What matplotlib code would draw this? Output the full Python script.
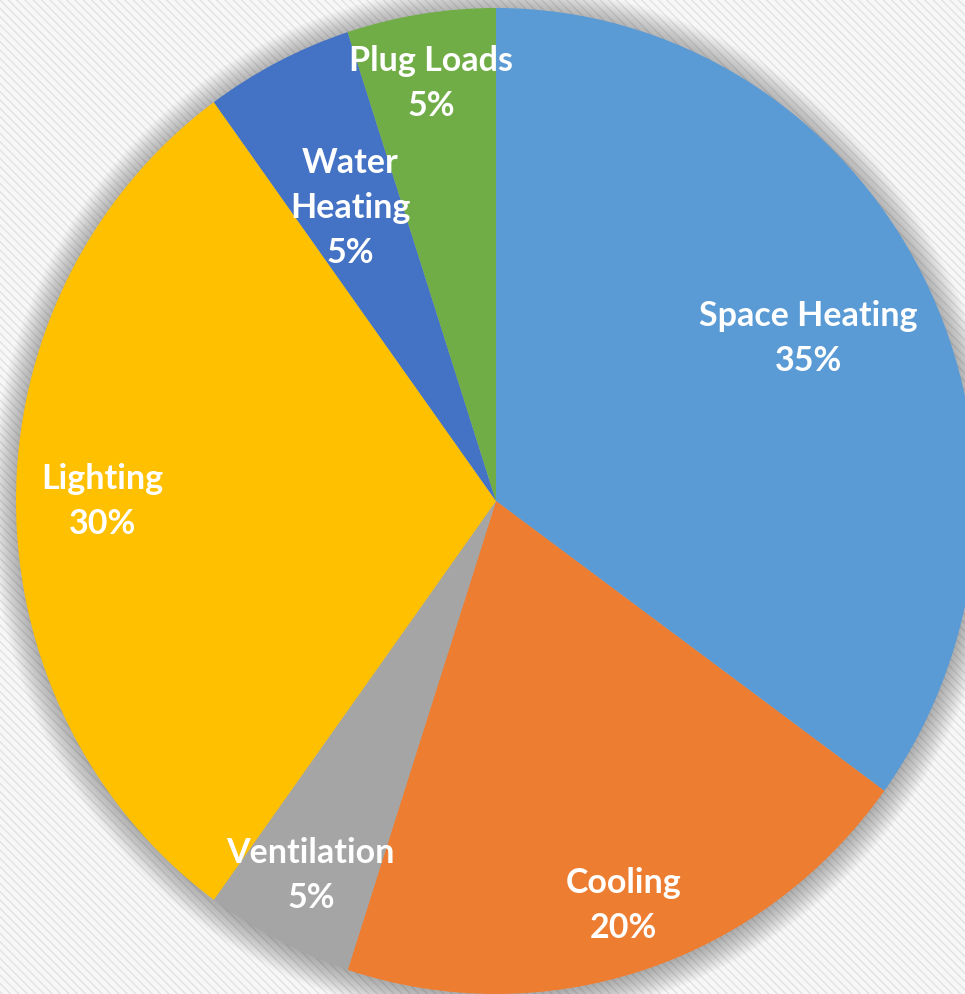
import numpy as np
import matplotlib
matplotlib.use("Agg")
import matplotlib.pyplot as plt
from matplotlib.patches import Circle, Rectangle

categories = ["Space Heating", "Cooling", "Ventilation", "Lighting", "Water\nHeating", "Plug Loads"]
shares = [35, 20, 5, 30, 5, 5]
colors = ["#5B9BD5", "#ED7D31", "#A5A5A5", "#FFC000", "#4472C4", "#70AD47"]
# radial position of each label (fraction of radius)
label_dist = [0.73, 0.86, 0.85, 0.82, 0.67, 0.86]

fig = plt.figure(figsize=(9.65, 9.95), dpi=100)
fig.patch.set_facecolor("#f7f7f7")
ax = fig.add_axes([0, 0, 1, 1])

# striped background
bg = Rectangle((0, 0), 1, 1, transform=fig.transFigure, facecolor="none",
               edgecolor="#e2e2e2", hatch="\\\\\\\\", linewidth=0, zorder=-10)
fig.patches.append(bg)

# soft shadow around the pie
for k in range(16):
    ax.add_patch(Circle((0, -0.005), 1.0 + k * 0.0035, color="black",
                        alpha=0.02, linewidth=0, zorder=0))

wedges, _ = ax.pie(shares, colors=colors, startangle=90, counterclock=False,
                   wedgeprops=dict(linewidth=0, zorder=2))

for w, lab, val, d in zip(wedges, categories, shares, label_dist):
    ang = np.deg2rad((w.theta1 + w.theta2) / 2)
    ax.text(d * np.cos(ang), d * np.sin(ang), f"{lab}\n{val}%", ha="center", va="center",
            color="white", fontsize=24.5, fontweight="bold", family="Lato",
            linespacing=1.5, zorder=5)

ax.set_aspect("auto")
ax.set_xlim(-496 / 480, (965 - 496) / 480)
ax.set_ylim(-(995 - 502) / 493, 502 / 493)
ax.axis("off")

fig.savefig("out.png", dpi=100, facecolor=fig.get_facecolor())
